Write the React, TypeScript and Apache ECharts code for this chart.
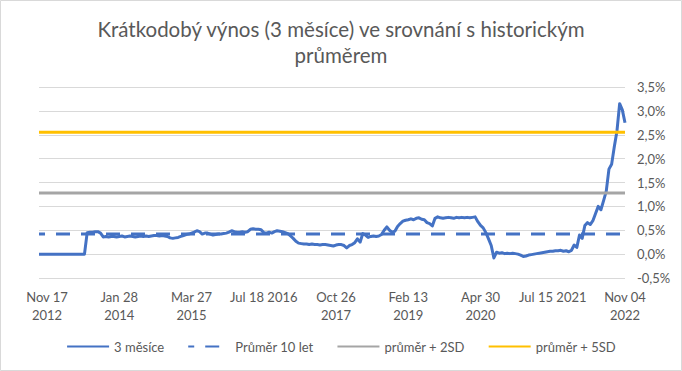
import React, { useEffect, useRef } from "react";
import * as echarts from "echarts";

const yield3m: number[] = [
  0.0, 0.0, 0.0, 0.0, 0.0, 0.0, 0.0, 0.0, 0.0, 0.0, 0.0, 0.0, 0.0, 0.0, 0.0, 0.0, 0.0, 0.0,
  0.45,
  0.46, 0.46, 0.47, 0.47, 0.44,
  0.36, 0.37, 0.36, 0.37, 0.37, 0.36, 0.37, 0.38, 0.36, 0.37,
  0.38, 0.37, 0.36, 0.37, 0.38, 0.37, 0.38, 0.37, 0.38, 0.39,
  0.39, 0.38, 0.39, 0.38, 0.37, 0.34, 0.33, 0.34, 0.35, 0.37,
  0.39, 0.41, 0.42, 0.44, 0.46, 0.49, 0.47, 0.42, 0.44, 0.44,
  0.42, 0.4, 0.41, 0.42, 0.42, 0.43, 0.44, 0.46, 0.49, 0.47,
  0.46, 0.46, 0.47, 0.46, 0.47, 0.52, 0.53, 0.52, 0.52, 0.51,
  0.45, 0.44, 0.46, 0.44, 0.47, 0.49, 0.48, 0.47, 0.45, 0.43,
  0.38, 0.33, 0.27, 0.23, 0.22, 0.21, 0.21, 0.2, 0.21, 0.2,
  0.2, 0.19, 0.2, 0.2, 0.19, 0.18, 0.17, 0.19, 0.2, 0.2,
  0.18, 0.13, 0.18, 0.2, 0.24, 0.32, 0.25, 0.43, 0.4, 0.35,
  0.37, 0.38, 0.37, 0.38, 0.41, 0.5, 0.57, 0.5, 0.46, 0.48,
  0.58, 0.64, 0.69, 0.71, 0.72, 0.74, 0.72, 0.75, 0.76, 0.73,
  0.72, 0.66, 0.64, 0.59, 0.75, 0.78, 0.76, 0.75, 0.76, 0.77,
  0.76, 0.75, 0.77, 0.76, 0.77, 0.76, 0.77, 0.76, 0.77, 0.78,
  0.68, 0.6, 0.55, 0.45, 0.32, 0.18, -0.08, 0.04, 0.02, 0.03,
  0.01, 0.02, 0.01, 0.02, 0.01, 0.0, -0.02, -0.05, -0.04, -0.02,
  -0.01, 0.0, 0.01, 0.02, 0.03, 0.04, 0.05, 0.06, 0.06, 0.07,
  0.07, 0.08, 0.06, 0.07, 0.05, 0.08, 0.19, 0.14, 0.4, 0.33,
  0.6, 0.66, 0.62, 0.7, 0.85, 1.0, 0.93, 1.12, 1.32, 1.78,
  1.88, 2.25, 2.58, 3.15, 3.02, 2.75,
];

// horizontal reference levels (%)
const avg10y = 0.42;
const avgPlus2SD = 1.28;
const avgPlus5SD = 2.55;

// x-axis tick labels, shown at every 27th observation starting with the 4th
const tickLabels: string[] = [
  "Nov 17\n2012",
  "Jan 28\n2014",
  "Mar 27\n2015",
  "Jul 18 2016",
  "Oct 26\n2017",
  "Feb 13\n2019",
  "Apr 30\n2020",
  "Jul 15 2021",
  "Nov 04\n2022",
];
const firstTickIndex = 3;
const tickStep = 27;

const seriesNames = ["3 měsíce", "Průměr 10 let", "průměr + 2SD", "průměr + 5SD"];

export default function App() {
  const ref = useRef<HTMLDivElement>(null);

  useEffect(() => {
    if (!ref.current) return;
    const chart = echarts.init(ref.current, null, { renderer: "svg" });
    const categories = yield3m.map((_, i) => String(i));
    const constant = (v: number) => yield3m.map(() => v);
    const font = "Lato, 'Open Sans', sans-serif";
    const textColor = "#595959";

    chart.setOption({
      animation: false,
      backgroundColor: "#ffffff",
      textStyle: { fontFamily: font },
      title: {
        text: "Krátkodobý výnos (3 měsíce) ve srovnání s historickým\nprůměrem",
        left: "center",
        top: 11,
        textStyle: {
          fontFamily: font,
          fontSize: 20.5,
          fontWeight: "normal",
          color: textColor,
          lineHeight: 26,
        },
      },
      graphic: [
        {
          type: "rect",
          shape: { x: 0.5, y: 0.5, width: 681, height: 370 },
          style: { fill: "none", stroke: "#d9d9d9", lineWidth: 1 },
          silent: true,
        },
      ],
      legend: {
        data: seriesNames,
        left: "center",
        top: 335,
        itemWidth: 42,
        itemHeight: 3,
        itemGap: 23,
        itemStyle: { opacity: 0 },
        textStyle: { fontFamily: font, fontSize: 13, color: textColor },
      },
      grid: { left: 39, right: 57, top: 87, bottom: 93, containLabel: false },
      xAxis: {
        type: "category",
        data: categories,
        boundaryGap: false,
        axisLine: { show: false },
        axisTick: { show: false },
        splitLine: { show: false },
        axisLabel: {
          interval: (idx: number) => idx >= firstTickIndex && (idx - firstTickIndex) % tickStep === 0,
          formatter: (_v: string, idx: number) => {
            const k = (idx - firstTickIndex) / tickStep;
            return tickLabels[k] ?? "";
          },
          color: textColor,
          fontSize: 13,
          lineHeight: 18,
          margin: 10,
          fontFamily: font,
        },
      },
      yAxis: {
        type: "value",
        position: "right",
        min: -0.5,
        max: 3.5,
        interval: 0.5,
        axisLine: { show: false },
        axisTick: { show: false },
        splitLine: { lineStyle: { color: "#d9d9d9", width: 1 } },
        axisLabel: {
          formatter: (v: number) => v.toFixed(1).replace(".", ",") + "%",
          color: textColor,
          fontSize: 13,
          margin: 12,
          fontFamily: font,
        },
      },
      series: [
        {
          name: seriesNames[0],
          type: "line",
          data: yield3m,
          symbol: "none",
          lineStyle: { color: "#4472C4", width: 3, join: "round" },
          itemStyle: { color: "#4472C4" },
        },
        {
          name: seriesNames[1],
          type: "line",
          data: constant(avg10y),
          symbol: "none",
          lineStyle: { color: "#4472C4", width: 3, type: [14, 11], dashOffset: 8 },
          itemStyle: { color: "#4472C4" },
        },
        {
          name: seriesNames[2],
          type: "line",
          data: constant(avgPlus2SD),
          symbol: "none",
          lineStyle: { color: "#A5A5A5", width: 3 },
          itemStyle: { color: "#A5A5A5" },
        },
        {
          name: seriesNames[3],
          type: "line",
          data: constant(avgPlus5SD),
          symbol: "none",
          lineStyle: { color: "#FFC000", width: 3 },
          itemStyle: { color: "#FFC000" },
        },
      ],
    });
    return () => chart.dispose();
  }, []);

  return (
    <div
      ref={ref}
      style={{ position: "fixed", left: 0, top: 0, width: 682, height: 371 }}
    />
  );
}
